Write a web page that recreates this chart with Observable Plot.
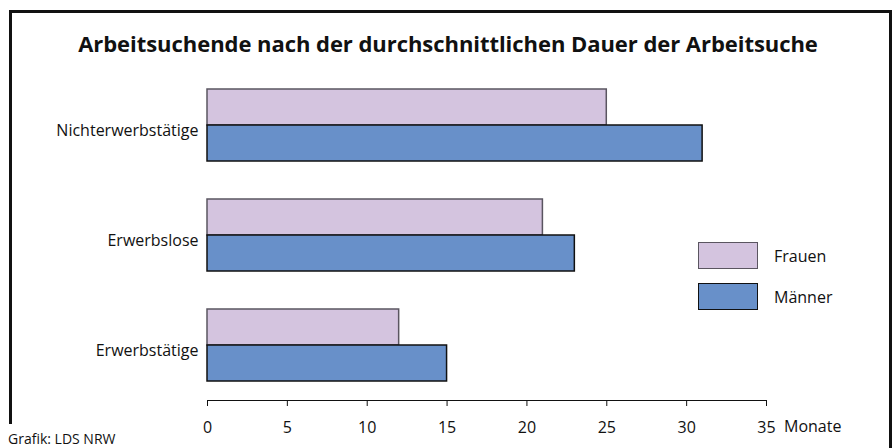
<!DOCTYPE html>
<html>
<head>
<meta charset="utf-8">
<script src="https://cdn.jsdelivr.net/npm/d3@7"></script>
<script src="https://cdn.jsdelivr.net/npm/@observablehq/plot@0.6"></script>
<style>
  html, body { margin: 0; padding: 0; background: #fff; }
  #wrap { position: relative; width: 896px; height: 448px; overflow: hidden; font-family: "Open Sans", sans-serif; color: #111; }
  #chart { position: absolute; left: 0; top: 0; }
  .border { position: absolute; background: #111; }
  #title { position: absolute; left: 0; width: 896px; top: 29px; text-align: center; font-weight: bold; font-size: 22px; line-height: 28px; letter-spacing: -0.05px; }
  #caption { position: absolute; left: 8px; top: 431px; font-size: 14px; line-height: 16px; }
  #unit { position: absolute; left: 784px; top: 415px; font-size: 16px; line-height: 22px; }
  .lg-box { position: absolute; left: 698px; width: 58px; height: 25px; }
  .lg-text { position: absolute; left: 774px; font-size: 16px; line-height: 22px; }
</style>
</head>
<body>
<div id="wrap">
  <div id="chart"></div>
  <div class="border" style="left:9px; top:10px; width:883px; height:2.5px;"></div>
  <div class="border" style="left:9px; top:10px; width:2.5px; height:414px;"></div>
  <div class="border" style="left:889px; top:10px; width:2.5px; height:440px;"></div>
  <div id="title"></div>
  <div id="caption"></div>
  <div id="unit"></div>
  <div id="legend"></div>
</div>
<script>
const categories = ["Nichterwerbstätige", "Erwerbslose", "Erwerbstätige"];
const series = ["Frauen", "Männer"];
const frauen = [25, 21, 12];
const maenner = [31, 23, 15];
const xTicks = [0, 5, 10, 15, 20, 25, 30, 35];
const fills = ["#d4c4df", "#6890c9"];
const strokes = ["#5a5560", "#111111"];
const titleText = "Arbeitsuchende nach der durchschnittlichen Dauer der Arbeitsuche";
const captionText = "Grafik: LDS NRW";
const unitText = "Monate";

const data = categories.flatMap((c, i) => [
  {cat: c, sex: series[0], value: frauen[i]},
  {cat: c, sex: series[1], value: maenner[i]}
]);

const chart = Plot.plot({
  width: 896,
  height: 448,
  marginLeft: 207,
  marginRight: 130,
  marginTop: 89,
  marginBottom: 67,
  style: {fontFamily: "Open Sans, sans-serif", fontSize: "16px", color: "#111", background: "transparent", overflow: "visible"},
  x: {domain: [0, 35]},
  y: {domain: series, axis: null, padding: 0},
  fy: {domain: categories, paddingInner: 38 / 110, paddingOuter: 0},
  color: {domain: series, range: fills},
  marks: [
    Plot.barX(data, {filter: d => d.sex === series[0], x: "value", y: "sex", fy: "cat", fill: "sex", stroke: strokes[0], strokeWidth: 1.5}),
    Plot.barX(data, {filter: d => d.sex === series[1], x: "value", y: "sex", fy: "cat", fill: "sex", stroke: strokes[1], strokeWidth: 1.5}),
    Plot.axisFy({anchor: "left", tickSize: 0, tickPadding: 9, label: null, dy: 5, fontSize: 16}),
    Plot.axisX({ticks: xTicks, anchor: "bottom", tickSize: 6, tickPadding: 15, label: null, dy: 19, fontSize: 16, stroke: "#111"}),
    Plot.frame({anchor: "bottom", facetAnchor: "bottom", dy: 19, stroke: "#111"})
  ]
});
document.getElementById("chart").appendChild(chart);

document.getElementById("title").textContent = titleText;
document.getElementById("caption").textContent = captionText;
document.getElementById("unit").textContent = unitText;
const lg = document.getElementById("legend");
const lgTops = [242, 283];
series.forEach((s, i) => {
  const b = document.createElement("div");
  b.className = "lg-box";
  b.style.top = lgTops[i] + "px";
  b.style.background = fills[i];
  b.style.border = "1.5px solid " + strokes[i];
  lg.appendChild(b);
  const t = document.createElement("div");
  t.className = "lg-text";
  t.style.top = (lgTops[i] + 3) + "px";
  t.textContent = s;
  lg.appendChild(t);
});
</script>
</body>
</html>
